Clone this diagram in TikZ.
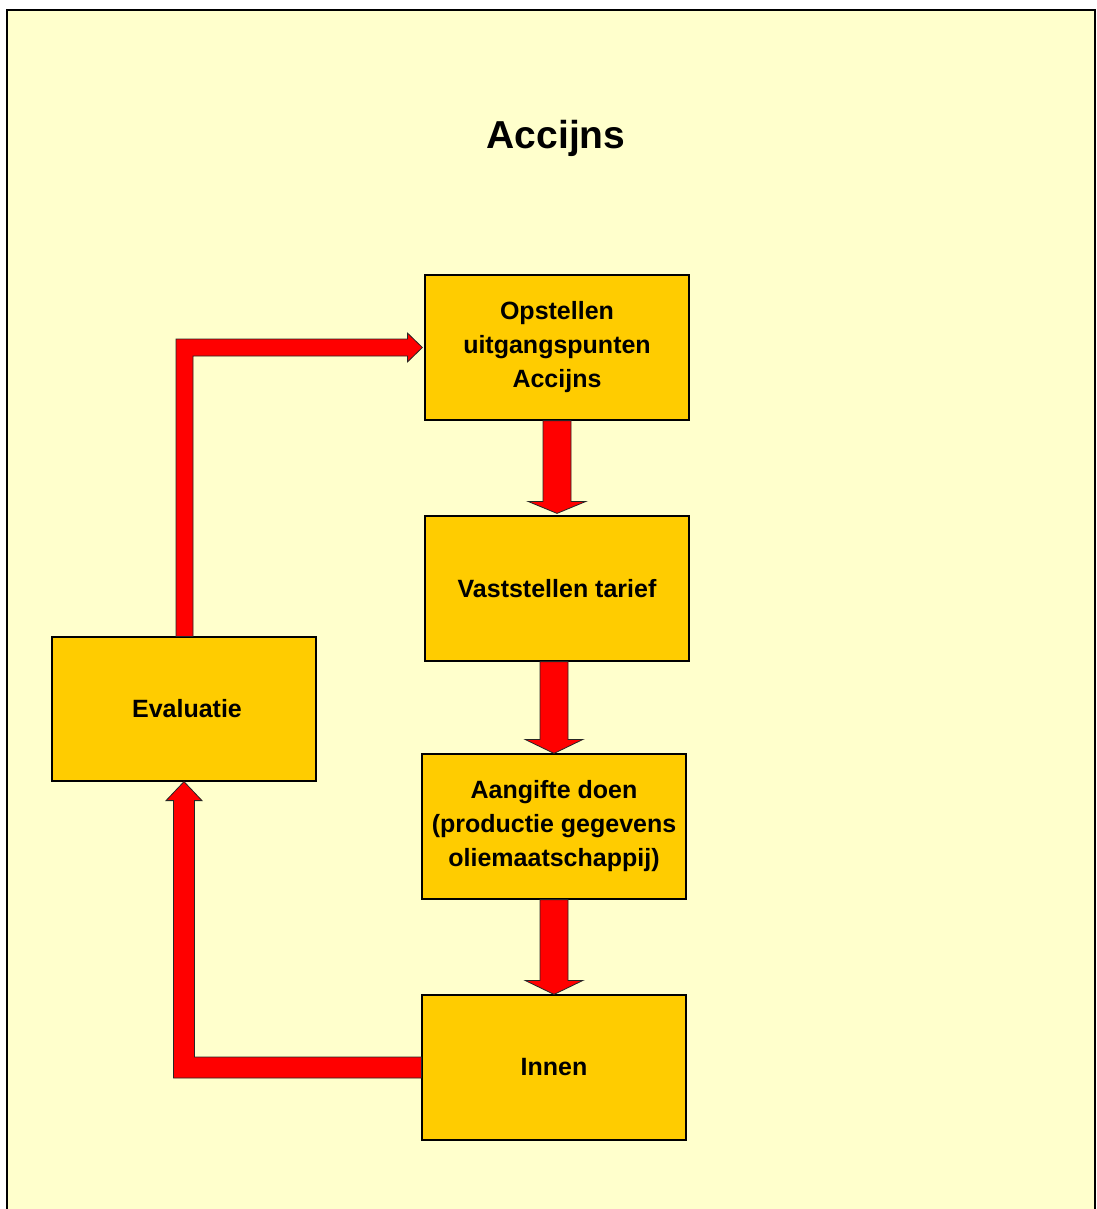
\documentclass[tikz,border=0pt]{standalone}
\usepackage{fontspec}
\setmainfont{Liberation Sans}
\usetikzlibrary{calc}
\definecolor{cream}{HTML}{FFFFCC}
\definecolor{boxfill}{HTML}{FFCC00}
\definecolor{arrred}{HTML}{FF0000}
\tikzset{
  stepbox/.style={draw=black, line width=1.2pt, fill=boxfill, minimum width=264pt, minimum height=145pt, inner sep=0pt, align=center, font=\fontsize{25}{34}\selectfont\bfseries},
  blockarrow/.style={fill=arrred, draw=black!85, line width=0.8pt, line join=miter},
}
\begin{document}
\begin{tikzpicture}[x=1pt,y=-1pt]
\useasboundingbox (0,0) rectangle (1096,1209);
\fill[white] (0,0) rectangle (1096,1209);
\draw[fill=cream, line width=2pt] (7,1230) -- (7,10) -- (1095,10) -- (1095,1230);
\node[font=\fontsize{39}{44}\selectfont\bfseries] (title) at (556,138) {Accijns};
\node[stepbox] (op) at (557,347.5) {Opstellen\\uitgangspunten\\Accijns};
\node[stepbox] (va) at (557,588.5) {Vaststellen tarief};
\node[stepbox] (ag) at (554,826.5) {Aangifte doen\\(productie gegevens\\oliemaatschappij)};
\node[stepbox] (in) at (554,1067.5) {Innen};
\node[stepbox, minimum height=144pt] (ev) at (184,709) {\hspace*{6pt}Evaluatie};
% down arrows
\draw[blockarrow] ($(op.south)+(-14,0)$) -- ($(va.north)+(-14,-14)$) -- ($(va.north)+(-29,-14)$) -- ($(va.north)+(0,-2)$) -- ($(va.north)+(29,-14)$) -- ($(va.north)+(14,-14)$) -- ($(op.south)+(14,0)$) -- cycle;
\draw[blockarrow] ($(ag.north |- va.south)+(-14,0)$) -- ($(ag.north)+(-14,-14)$) -- ($(ag.north)+(-29,-14)$) -- ($(ag.north)+(0,0)$) -- ($(ag.north)+(29,-14)$) -- ($(ag.north)+(14,-14)$) -- ($(ag.north |- va.south)+(14,0)$) -- cycle;
\draw[blockarrow] ($(ag.south)+(-14,0)$) -- ($(in.north)+(-14,-14)$) -- ($(in.north)+(-29,-14)$) -- ($(in.north)+(0,0)$) -- ($(in.north)+(29,-14)$) -- ($(in.north)+(14,-14)$) -- ($(ag.south)+(14,0)$) -- cycle;
% bottom loop: Innen -> Evaluatie
\draw[blockarrow] ($(in.west)+(0,-10.5)$) -- ($(ev.south |- in.west)+(10.5,-10.5)$) -- ($(ev.south)+(10.5,19)$) -- ($(ev.south)+(18,19)$) -- (ev.south) -- ($(ev.south)+(-18,19)$) -- ($(ev.south)+(-10.5,19)$) -- ($(ev.south |- in.west)+(-10.5,10.5)$) -- ($(in.west)+(0,10.5)$) -- cycle;
% top loop: Evaluatie -> Opstellen
\draw[blockarrow] ($(ev.north)+(9,0)$) -- ($(ev.north |- op.west)+(9,8.5)$) -- ($(op.west)+(-17,8.5)$) -- ($(op.west)+(-17,14.5)$) -- ($(op.west)+(-2,0)$) -- ($(op.west)+(-17,-14.5)$) -- ($(op.west)+(-17,-8.5)$) -- ($(ev.north |- op.west)+(-8,-8.5)$) -- ($(ev.north)+(-8,0)$) -- cycle;
\end{tikzpicture}
\end{document}
